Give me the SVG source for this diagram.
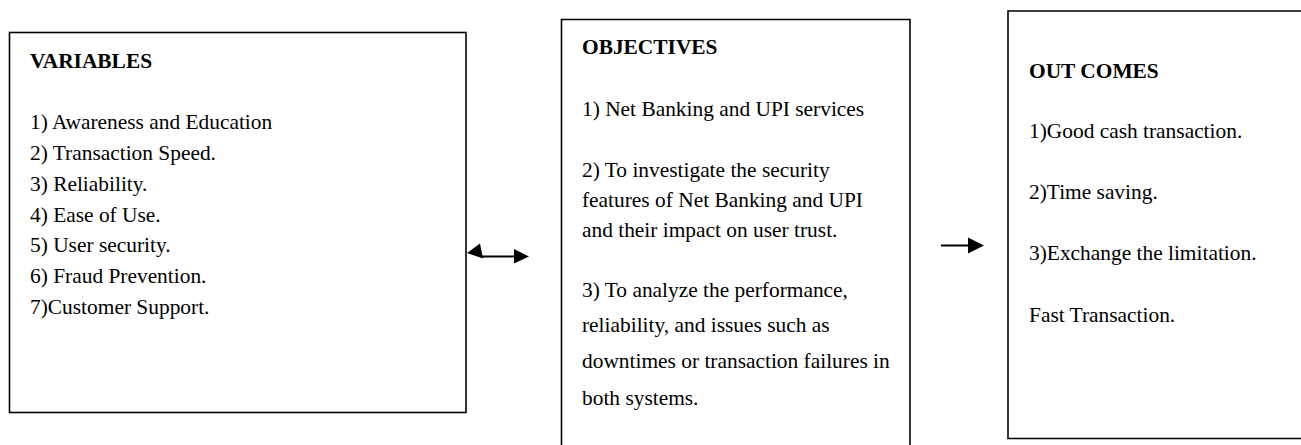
<svg xmlns="http://www.w3.org/2000/svg" width="1301" height="445" viewBox="0 0 1301 445">
  <style>
    .box { fill: none; stroke: #000; stroke-width: 1.6; }
    .txt { font-family: "Liberation Serif", "Times New Roman", serif; font-size: 21.4px; fill: #000; }
    .head { font-weight: bold; }
    .wire { stroke: #000; stroke-width: 2; fill: none; }
    .tip { fill: #000; stroke: none; }
  </style>
  <rect width="1301" height="445" fill="#fff"/>

  <!-- Variables -->
  <g id="variables">
    <rect class="box" x="9.5" y="32.5" width="456.5" height="380"/>
    <text class="txt head" x="30" y="68">VARIABLES</text>
    <text class="txt" x="30" y="129">1) Awareness and Education</text>
    <text class="txt" x="30" y="160">2) Transaction Speed.</text>
    <text class="txt" x="30" y="191">3) Reliability.</text>
    <text class="txt" x="30" y="222">4) Ease of Use.</text>
    <text class="txt" x="30" y="252">5) User security.</text>
    <text class="txt" x="30" y="283">6) Fraud Prevention.</text>
    <text class="txt" x="30" y="314">7)Customer Support.</text>
  </g>

  <!-- Objectives (box runs past the lower edge) -->
  <g id="objectives">
    <path class="box" d="M561.5,450 V19.5 H910 V450"/>
    <text class="txt head" x="582" y="54">OBJECTIVES</text>
    <text class="txt" x="582" y="116">1) Net Banking and UPI services</text>
    <text class="txt" x="582" y="177">2) To investigate the security</text>
    <text class="txt" x="582" y="207">features of Net Banking and UPI</text>
    <text class="txt" x="582" y="237">and their impact on user trust.</text>
    <text class="txt" x="582" y="297">3) To analyze the performance,</text>
    <text class="txt" x="582" y="332">reliability, and issues such as</text>
    <text class="txt" x="582" y="368">downtimes or transaction failures in</text>
    <text class="txt" x="582" y="405">both systems.</text>
  </g>

  <!-- Outcomes (box runs past the right edge) -->
  <g id="outcomes">
    <path class="box" d="M1310,11 H1008 V438.5 H1310"/>
    <text class="txt head" x="1029" y="78">OUT COMES</text>
    <text class="txt" x="1029" y="138">1)Good cash transaction.</text>
    <text class="txt" x="1029" y="199">2)Time saving.</text>
    <text class="txt" x="1029" y="260">3)Exchange the limitation.</text>
    <text class="txt" x="1029" y="322">Fast Transaction.</text>
  </g>

  <!-- Connectors -->
  <g id="connectors">
    <line class="wire" x1="481" y1="256.5" x2="516" y2="256.5"/>
    <polygon class="tip" points="467,253 480,243.5 483,258.5"/>
    <polygon class="tip" points="514,249 529,256.5 514,263.5"/>
    <line class="wire" x1="941" y1="245.5" x2="970" y2="245.5"/>
    <polygon class="tip" points="968,237.5 984,245.5 968,253.5"/>
  </g>
</svg>
